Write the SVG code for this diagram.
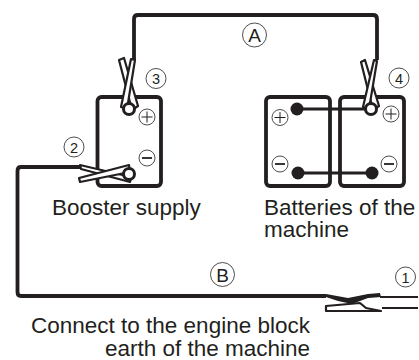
<svg xmlns="http://www.w3.org/2000/svg" width="419" height="360" viewBox="0 0 419 360">
<style>
.b{fill:none;stroke:#231f20;stroke-width:3.800}
.w{fill:none;stroke:#231f20;stroke-width:3.800;stroke-linejoin:round}
.l{fill:none;stroke:#231f20;stroke-width:3}
.c{fill:#fff;stroke:#231f20;stroke-width:.8}
.s{fill:none;stroke:#231f20;stroke-width:1}
.m{fill:none;stroke:#231f20;stroke-width:1.800}
.jaw{fill:#fff;stroke:#231f20;stroke-width:2.200;stroke-linejoin:round}
.ring{fill:#fff;stroke:#231f20;stroke-width:3}
.d{fill:#231f20}
text{font-family:"Liberation Sans",Arial,sans-serif;fill:#231f20}
.t{font-size:22.500px}
.n{font-size:14.500px;text-anchor:middle}
.k{font-size:19px;text-anchor:middle}
</style>
<g id="connectors">
<path class="w" d="M134 60V19Q134 15 138 15H373Q377 15 377 19V60"/>
<path class="w" d="M80 167H21Q17.500 167 17.500 171V292Q17.500 296 21 296H326"/>
<path class="l" d="M297 109H371"/>
<path class="l" d="M298 173H372"/>
</g>
<g id="booster">
<rect class="b" x="97.500" y="97" width="63.500" height="89" rx="4"/>
<circle class="c" cx="147" cy="117" r="8"/><path class="s" d="M141.500 117h11M147 111.500v11"/>
<circle class="c" cx="147" cy="158" r="8"/><path class="m" d="M142 158h10"/>
<text class="t" x="52" y="215">Booster supply</text>
</g>
<g id="batteries">
<rect class="b" x="266" y="97" width="64" height="89" rx="4"/>
<rect class="b" x="340" y="97" width="64" height="89" rx="4"/>
<circle class="d" cx="297" cy="109" r="6.500"/>
<circle class="d" cx="298" cy="173" r="6.500"/>
<circle class="d" cx="372" cy="173" r="6.500"/>
<circle class="c" cx="280" cy="117.500" r="8"/><path class="s" d="M274.500 117.500h11M280 112v11"/>
<circle class="c" cx="280" cy="164" r="8"/><path class="m" d="M275 164h10"/>
<circle class="c" cx="391" cy="114" r="8"/><path class="s" d="M385.500 114h11M391 108.500v11"/>
<circle class="c" cx="389" cy="164" r="8"/><path class="m" d="M384 164h10"/>
<text class="t" x="264" y="215">Batteries of the</text>
<text class="t" x="264" y="237">machine</text>
</g>
<g id="clamp3">
<path class="jaw" d="M119 60L124 58L138 106L132 110Z"/>
<path class="jaw" d="M131 59L135 60L127 109L121 107Z"/>
<circle class="ring" cx="129" cy="109" r="5.500"/>
<circle class="c" cx="156" cy="78.500" r="10"/><text class="n" x="156" y="84">3</text>
</g>
<g id="clamp2">
<path class="jaw" d="M80 165L81 169L130 182L131 177Z"/>
<path class="jaw" d="M79 178L80 182L130 172L129 165Z"/>
<circle class="ring" cx="129" cy="174" r="5.500"/>
<circle class="c" cx="74" cy="147" r="10"/><text class="n" x="74" y="152.500">2</text>
</g>
<g id="clamp4">
<path class="jaw" d="M361 62L365 60L379 106L373 110Z"/>
<path class="jaw" d="M374 60L377 61L369 109L363 107Z"/>
<circle class="ring" cx="371" cy="109" r="5.500"/>
<circle class="c" cx="399" cy="78" r="10"/><text class="n" x="399" y="83.500">4</text>
</g>
<g id="clamp1">
<path d="M380 297H418" fill="none" stroke="#231f20" stroke-width="1.800"/>
<path d="M382 308H418" fill="none" stroke="#231f20" stroke-width="1.800"/>
<path class="jaw" d="M326 306L360 303L366 308L381 311L326 311Z"/>
<path d="M326 294L348 298L368 294L380 293L381 297L368 298L352 304L338 301L326 297Z" fill="#231f20"/>
<circle class="c" cx="405.500" cy="277" r="10"/><text class="n" x="405.500" y="282.500">1</text>
</g>
<g id="labelA"><circle class="c" cx="254.500" cy="35" r="12"/><text class="k" x="254.500" y="42">A</text></g>
<g id="labelB"><circle class="c" cx="222.500" cy="274.500" r="12"/><text class="k" x="222.500" y="281.500">B</text></g>
<g id="note">
<text class="t" x="31" y="333">Connect to the engine block</text>
<text class="t" x="105" y="356">earth of the machine</text>
</g>
</svg>
